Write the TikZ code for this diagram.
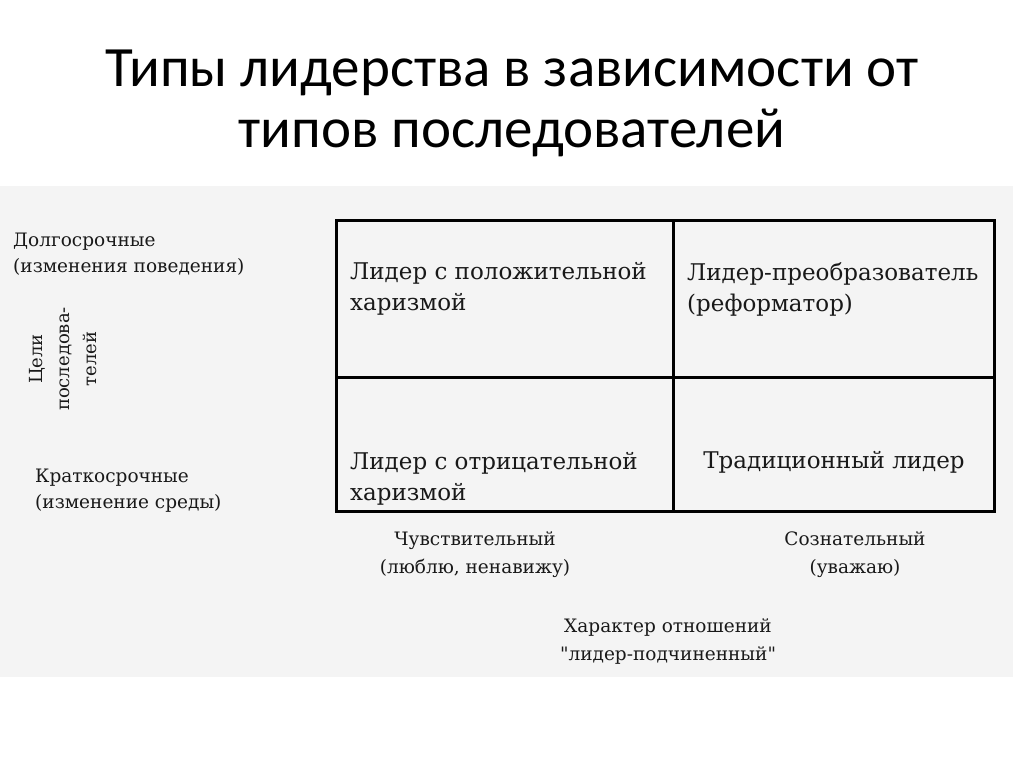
\documentclass[tikz,border=0pt]{standalone}
\usepackage{fontspec}
\setmainfont{DejaVu Serif}
\newfontfamily\titlefont{Carlito}
\newfontfamily\plainserif{DejaVu Serif}[Ligatures=TeXOff]
\definecolor{bggray}{RGB}{244,244,244}
\definecolor{ink}{RGB}{25,25,25}
\begin{document}
\begin{tikzpicture}[x=1pt,y=-1pt,
  titletext/.style={inner sep=0pt, anchor=base, align=center, text=black, font=\titlefont\fontsize{57}{61}\selectfont},
  celltext/.style={inner sep=0pt, anchor=base west, align=left, text=ink, font=\fontsize{23}{31}\selectfont},
  lab/.style={inner sep=0pt, anchor=base, align=center, text=ink, font=\plainserif\fontsize{18.5}{28}\selectfont},
  leftlab/.style={inner sep=0pt, anchor=base west, align=left, text=ink, font=\fontsize{18.5}{25.5}\selectfont},
  gridline/.style={line width=3pt}]
\useasboundingbox (0,0) rectangle (1024,767);
\fill[bggray] (0,186) rectangle (1013,677);
% title (anchor at baseline of last line)
\node[titletext] (title) at (512,148) {Типы лидерства в зависимости от\\типов последователей};
% grid
\draw[gridline] (336.5,220.5) rectangle (994.5,511);
\draw[gridline] (673,220.5) -- (673,511);
\draw[gridline] (336.5,377) -- (994.5,377);
% cells
\node[celltext] (c11) at (350,310) {Лидер с положительной\\харизмой};
\node[celltext] (c12) at (687,311) {Лидер-преобразователь\\(реформатор)};
\node[celltext] (c21) at (350,500) {Лидер с отрицательной\\харизмой};
\node[celltext, anchor=base] (c22) at (834,468) {Традиционный лидер};
% left labels
\node[leftlab] (long) at (13,272) {Долгосрочные\\(изменения поведения)};
\node[leftlab] (short) at (35,508) {Краткосрочные\\(изменение среды)};
\node[inner sep=0pt, rotate=90, align=center, text=ink, font=\fontsize{18}{27}\selectfont] (goals) at (63,359) {Цели\\последова-\\телей};
% bottom labels
\node[lab] (emo) at (475,573) {Чувствительный\\(люблю, ненавижу)};
\node[lab] (con) at (855,573) {Сознательный\\(уважаю)};
\node[lab] (rel) at (668,660) {Характер отношений\\"лидер-подчиненный"};
\end{tikzpicture}
\end{document}
